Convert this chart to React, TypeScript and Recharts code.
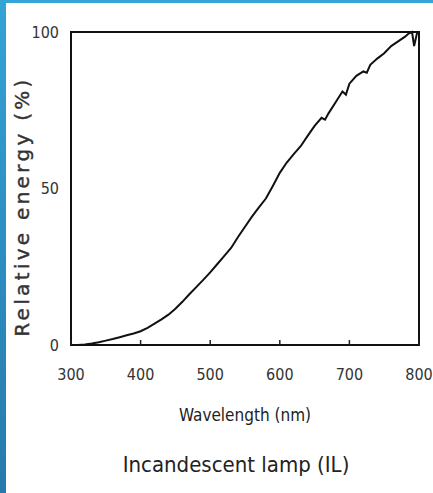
import { LineChart, Line, XAxis, YAxis, ReferenceArea } from "recharts";

const wavelengths = [
  300, 310, 320, 330, 340, 350, 360, 370, 380, 390, 400, 410, 420, 430, 440, 450, 460, 470, 480, 490,
  500, 510, 520, 530, 540, 550, 560, 570, 580, 590, 600, 610, 620, 630, 640, 650, 660, 665, 670, 680,
  690, 695, 700, 710, 720, 725, 730, 740, 750, 760, 770, 780, 785, 790, 793, 797, 800,
];
const energy = [
  0, 0, 0.2, 0.5, 0.9, 1.4, 1.9, 2.5, 3.1, 3.7, 4.4, 5.5, 6.8, 8.2, 9.7, 11.6, 13.8, 16.2, 18.5, 20.8,
  23.2, 25.8, 28.4, 31.0, 34.5, 37.8, 41.0, 44.0, 46.8, 50.8, 55.0, 58.3, 61.0, 63.5, 66.8, 70.0, 72.6, 72.0, 74.0, 77.5,
  81.0, 80.0, 83.5, 86.0, 87.4, 87.0, 89.5, 91.5, 93.2, 95.5, 97.0, 98.5, 99.5, 100, 95.5, 99.5, 100,
];
const xTicks = [300, 400, 500, 600, 700, 800];
const yTicks = [0, 50, 100];

const data = wavelengths.map((w, i) => ({ w, e: energy[i] }));

const tickFont = "'Liberation Sans Narrow', 'DejaVu Sans Condensed', sans-serif";

function YTitle({ viewBox }: any) {
  const cx = 22;
  const cy = viewBox.y + viewBox.height / 2 + 18;
  return (
    <text
      x={cx}
      y={cy}
      transform={`rotate(-90 ${cx} ${cy})`}
      textAnchor="middle"
      dominantBaseline="central"
      fontFamily="'DejaVu Sans', sans-serif"
      fontSize={20}
      letterSpacing={3.3}
      fill="#333"
      stroke="#333"
      strokeWidth={0.4}
    >
      Relative energy (%)
    </text>
  );
}

export default function App() {
  return (
    <div
      style={{
        position: "absolute",
        top: 0,
        left: 0,
        width: 433,
        height: 493,
        background: "#fff",
        overflow: "hidden",
      }}
    >
      <div style={{ position: "absolute", left: 0, top: 0, width: 6, height: 493, background: "linear-gradient(#33a3d6, #2779ad)" }} />
      <div style={{ position: "absolute", left: 0, top: 0, width: 433, height: 3, background: "#35a5d8" }} />
      <LineChart width={433} height={493} data={data} margin={{ top: 32, right: 14, left: 0, bottom: 0 }}>
        <XAxis
          dataKey="w"
          type="number"
          domain={[300, 800]}
          ticks={xTicks}
          height={148}
          tickSize={-5}
          tickMargin={29}
          axisLine={false}
          tickLine={{ stroke: "#222", strokeWidth: 1.5 }}
          tick={{ fill: "#333", fontSize: 16, fontFamily: tickFont }}
          label={{
            value: "Wavelength (nm)",
            position: "insideTop",
            offset: 64,
            fill: "#222",
            fontSize: 17,
            fontFamily: "'DejaVu Sans Condensed', sans-serif",
          }}
        />
        <YAxis
          type="number"
          domain={[0, 100]}
          ticks={yTicks}
          width={71}
          axisLine={false}
          tickLine={false}
          tickMargin={6}
          tick={{ fill: "#333", fontSize: 16, fontFamily: tickFont }}
          label={<YTitle />}
        />
        <ReferenceArea x1={300} x2={800} y1={0} y2={100} fill="none" stroke="#111" strokeWidth={2} ifOverflow="visible" />
        <Line
          type="linear"
          dataKey="e"
          stroke="#111"
          strokeWidth={2}
          dot={false}
          isAnimationActive={false}
        />
      </LineChart>
      <div
        style={{
          position: "absolute",
          left: 0,
          top: 454,
          width: 472,
          textAlign: "center",
          fontFamily: "'DejaVu Sans Condensed', sans-serif",
          fontSize: 22,
          lineHeight: 1,
          color: "#222",
        }}
      >
        Incandescent lamp (IL)
      </div>
    </div>
  );
}
